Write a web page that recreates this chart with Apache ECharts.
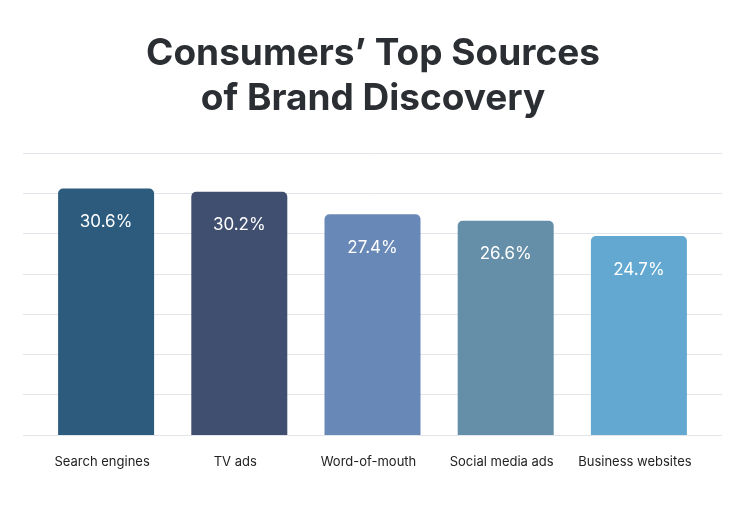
<!DOCTYPE html>
<html><head><meta charset="utf-8">
<script src="https://cdn.jsdelivr.net/npm/echarts@6/dist/echarts.min.js"></script>
<style>html,body{margin:0;padding:0;background:#fff}#c{width:746px;height:524px}</style>
</head><body><div id="c"></div>
<script>
const categories = ["Search engines", "TV ads", "Word-of-mouth", "Social media ads", "Business websites"];
const values = [30.6, 30.2, 27.4, 26.6, 24.7];
const barColors = ["#2d5b7e", "#404e70", "#6888b8", "#658fa8", "#62a8d0"];
const yTicks = [0, 5, 10, 15, 20, 25, 30, 35];

const chart = echarts.init(document.getElementById('c'));
chart.setOption({
  animation: false,
  title: {
    text: "Consumers’ Top Sources\nof Brand Discovery",
    left: 'center', top: 26,
    textStyle: { fontFamily: 'Inter', fontWeight: 'bold', fontSize: 37, lineHeight: 45, color: '#2b2e33' }
  },
  grid: [
    { left: 39.5, width: 666, top: 153, height: 282 },
    { left: 23, width: 699, top: 153, height: 282 }
  ],
  xAxis: [
    { gridIndex: 0, type: 'category', data: categories,
      axisLine: { show: false }, axisTick: { show: false },
      axisLabel: { interval: 0, margin: 21, fontFamily: 'Inter', fontSize: 13, color: '#222', padding: [0, 8, 0, 0] } },
    { gridIndex: 1, type: 'value', min: 0, max: 1, show: true,
      axisLine: { show: false }, axisTick: { show: false }, axisLabel: { show: false }, splitLine: { show: false } }
  ],
  yAxis: [
    { gridIndex: 0, type: 'value', min: yTicks[0], max: yTicks[yTicks.length - 1], interval: 5,
      axisLine: { show: false }, axisTick: { show: false }, axisLabel: { show: false }, splitLine: { show: false } },
    { gridIndex: 1, type: 'value', min: yTicks[0], max: yTicks[yTicks.length - 1], interval: 5,
      axisLine: { show: false }, axisTick: { show: false }, axisLabel: { show: false },
      splitLine: { show: true, lineStyle: { color: '#e2e5ea', width: 1 } } }
  ],
  series: [{
    type: 'bar', xAxisIndex: 0, yAxisIndex: 0,
    barWidth: 96,
    data: values.map((v, i) => ({ value: v, itemStyle: { color: barColors[i], borderRadius: [5, 5, 0, 0] } })),
    label: {
      show: true, position: 'insideTop', distance: 25,
      formatter: p => p.value.toFixed(1) + '%',
      fontFamily: 'Inter', fontSize: 17, color: '#fff'
    }
  }]
});
</script></body></html>
